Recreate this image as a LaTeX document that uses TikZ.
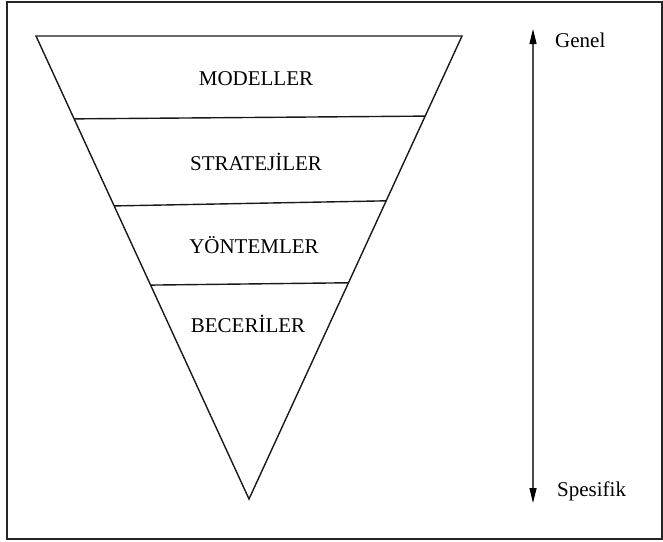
\documentclass[tikz,border=0pt]{standalone}
\usepackage{fontspec}
\setmainfont{Liberation Serif}
\usetikzlibrary{calc,arrows.meta}
\begin{document}
\begin{tikzpicture}[x=1pt,y=-1pt,
  frameline/.style={draw=black!85,line width=2pt},
  edge/.style={draw=black!90,line width=1.4pt,line join=miter},
  layer/.style={font=\fontsize{21}{25}\selectfont,anchor=base,inner sep=0pt},
  side/.style={font=\fontsize{21}{25}\selectfont,anchor=base west,inner sep=0pt},
  tipshape/.style={},
  scale arrow/.style={draw=black!70,line width=1.2pt,
    {Triangle[length=15pt,width=7pt,fill=black,color=black]}-{Triangle[length=15pt,width=7pt,fill=black,color=black]}}]
  \useasboundingbox (0,0) rectangle (663,541);
  \draw[frameline] (7,1.5) rectangle (661.5,538.5);

  % inverted triangle
  \coordinate (tl) at (36,36);
  \coordinate (tr) at (462,36);
  \coordinate (ap) at (249,499);
  \draw[edge] (tl) -- (tr) -- (ap) -- cycle;

  % dividing lines between the layers
  \coordinate (l1) at ($(tl)!0.179!(ap)$);
  \coordinate (r1) at ($(tr)!0.173!(ap)$);
  \coordinate (l2) at ($(tl)!0.367!(ap)$);
  \coordinate (r2) at ($(tr)!0.356!(ap)$);
  \coordinate (l3) at ($(tl)!0.538!(ap)$);
  \coordinate (r3) at ($(tr)!0.533!(ap)$);
  \draw[edge] (l1) -- (r1);
  \draw[edge] (l2) -- (r2);
  \draw[edge] (l3) -- (r3);

  % layer labels
  \node[layer] (modeller) at (256,85) {MODELLER};
  \node[layer] (strateji) at (256,170) {STRATEJİLER};
  \node[layer] (yontem) at (254,253) {YÖNTEMLER};
  \node[layer] (beceri) at (248,332) {BECERİLER};

  % general-to-specific scale
  \coordinate (atop) at (533,29);
  \coordinate (abot) at (533,503);
  \draw[scale arrow] (atop) -- (abot);
  \node[side] (genel) at (555,47) {Genel};
  \node[side] (spesifik) at (557,496) {Spesifik};
\end{tikzpicture}
\end{document}
